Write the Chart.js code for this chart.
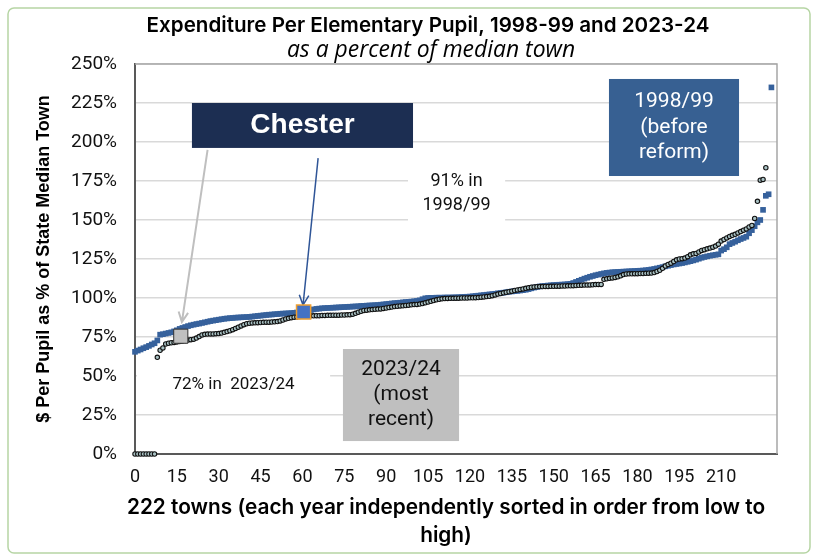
<!DOCTYPE html>
<html>
<head>
<meta charset="utf-8">
<script src="https://cdn.jsdelivr.net/npm/chart.js@4.4.1/dist/chart.umd.min.js"></script>
<style>
  html, body { margin: 0; padding: 0; background: #fff; }
</style>
</head>
<body>
<canvas id="graficoGastos" width="817" height="560"></canvas>
<script>
// % of state median town, each year sorted low -> high (rank along x)
const towns1999 = [
  65.5, 66.3, 67, 67.8, 68.5, 69.3, 70.2, 71, 72.8, 76.5,
  76.8, 77.2, 77.6, 78, 78.6, 79.3, 80.2, 80.8, 81.4, 82,
  82.5, 82.9, 83.3, 83.6, 84, 84.4, 84.8, 85.2, 85.5, 85.8,
  86.1, 86.4, 86.7, 86.9, 87.1, 87.2, 87.4, 87.5, 87.6, 87.7,
  87.8, 87.9, 88.1, 88.3, 88.5, 88.7, 88.9, 89.1, 89.3, 89.4,
  89.6, 89.7, 89.9, 90, 90.1, 90.2, 90.3, 90.5, 90.7, 90.9,
  91.1, 91.5, 91.9, 92.3, 92.7, 93, 93.2, 93.4, 93.5, 93.6,
  93.7, 93.8, 93.9, 94, 94.1, 94.2, 94.3, 94.4, 94.5, 94.6,
  94.7, 94.9, 95, 95.1, 95.2, 95.3, 95.4, 95.5, 95.7, 95.9,
  96.1, 96.3, 96.5, 96.7, 96.8, 97, 97.2, 97.4, 97.5, 97.7,
  97.9, 98.1, 98.5, 99.2, 99.8, 100, 100.1, 100.1, 100.2, 100.2,
  100.2, 100.3, 100.3, 100.3, 100.4, 100.4, 100.5, 100.6, 100.7, 100.8,
  100.9, 101.1, 101.3, 101.5, 101.7, 101.9, 102.1, 102.3, 102.5, 102.7,
  103, 103.2, 103.4, 103.7, 104, 104.2, 104.4, 104.6, 104.8, 105,
  105.3, 105.7, 106.2, 106.7, 107.1, 107.4, 107.6, 107.8, 108, 108.1,
  108.3, 108.4, 108.5, 108.6, 108.7, 108.9, 109.1, 109.6, 110.3, 111,
  111.7, 112.4, 113, 113.6, 114.1, 114.6, 115, 115.4, 115.8, 116.1,
  116.3, 116.5, 116.6, 116.7, 116.8, 116.9, 117, 117.1, 117.2, 117.3,
  117.4, 117.5, 117.6, 117.8, 118, 118.3, 118.6, 119, 119.4, 119.8,
  120.3, 120.7, 121.1, 121.5, 121.8, 122.1, 122.4, 122.8, 123.2, 123.6,
  124.1, 124.6, 125.2, 125.8, 126.3, 126.7, 127.1, 127.4, 127.7, 128,
  130.4, 131.3, 132.5, 134.5, 135.3, 136.1, 137, 137.8, 138.5, 139.3,
  141.5, 143.5, 146, 148.5, 150, 156.5, 165.5, 166.5, 235
];

const towns2024 = [
  0, 0, 0, 0, 0, 0, 0, 0, 62, 66.5,
  68, 70.5, 71, 71.3, 71.5, 71.8, 72.1, 72.4, 72.7, 73,
  73.3, 73.6, 74.3, 75.3, 76.3, 76.7, 76.9, 77, 77, 77.1,
  77.2, 77.5, 78, 78.5, 79, 79.7, 80.5, 81.3, 82.1, 82.9,
  83.5, 83.8, 84, 84.1, 84.2, 84.3, 84.4, 84.5, 84.5, 84.6,
  84.7, 84.9, 85.3, 85.9, 86.6, 87, 87.4, 87.7, 87.9, 88.1,
  88.3, 88.4, 88.5, 88.6, 88.6, 88.7, 88.7, 88.8, 88.8, 88.9,
  88.9, 89, 89, 89, 89.1, 89.1, 89.2, 89.3, 89.6, 90.2,
  90.9, 91.5, 92, 92.2, 92.4, 92.6, 92.8, 92.9, 93, 93.3,
  93.6, 93.9, 94.2, 94.5, 94.7, 94.9, 95, 95.2, 95.4, 95.6,
  95.8, 95.9, 96.1, 96.4, 96.9, 97.4, 97.9, 98.4, 98.8, 99.2,
  99.5, 99.6, 99.7, 99.8, 99.8, 99.9, 99.9, 100, 100, 100,
  100.1, 100.1, 100.2, 100.3, 100.5, 100.7, 100.9, 101.1, 101.5, 102,
  102.5, 102.9, 103.3, 103.7, 104, 104.4, 104.8, 105.2, 105.5, 105.8,
  106.2, 106.6, 106.9, 107.1, 107.2, 107.3, 107.3, 107.4, 107.4, 107.5,
  107.5, 107.6, 107.6, 107.7, 107.7, 107.8, 107.8, 107.9, 108, 108.1,
  108.2, 108.3, 108.3, 108.4, 108.5, 108.6, 108.7, 108.7, 112, 112.3,
  112.6, 112.9, 113.2, 113.6, 114.2, 115, 115.4, 115.5, 115.5, 115.6,
  115.6, 115.7, 115.7, 115.8, 115.9, 116, 116.3, 117, 117.8, 119,
  120.5, 121.5, 122.3, 123.4, 124.5, 125, 125.2, 125.6, 126.5, 127.7,
  128.3, 128.6, 129.5, 130.5, 131, 131.5, 132, 132.6, 133.3, 134.5,
  136.5, 137.5, 138.5, 139.5, 140.2, 140.8, 141.7, 142.6, 143.5, 144.3,
  145.5, 146.5, 151, 162, 175.5, 176, 183.5
];

// Chester highlight markers: 2023/24 and 1998/99 (rank, % as drawn)
const chesterRank = [16.4, 60.4];
const chesterValue = [75.5, 91];

const titulo = 'Expenditure Per Elementary Pupil, 1998-99 and 2023-24';
const subtitulo = 'as a percent of median town';
const tituloX = ['222 towns (each year independently sorted in order from low to', 'high)'];
const tituloY = '$ Per Pupil as % of State Median Town';

// text boxes, placed in data units
const caixas = [
  { x: [20.4, 99.6], y: [225, 196.2], fill: '#1c2e52', color: '#fff', font: 'bold 28px "Liberation Sans", Arial', lines: ['Chester'], gap: 0 },
  { x: [169.8, 216.4], y: [240.4, 178.2], fill: '#376092', color: '#fff', font: '21px Roboto', lines: ['1998/99', '(before', 'reform)'], gap: 25.5 },
  { x: [74.5, 116.1], y: [67.3, 8.3], fill: '#bfbfbf', color: '#111', font: '21px Roboto', lines: ['2023/24', '(most', 'recent)'], gap: 25 },
  { x: [97.8, 132.6], y: [185, 148.7], fill: '#fff', color: '#111', font: '18px Roboto', lines: ['91% in', '1998/99'], gap: 24 },
  { x: [0.7, 69.9], y: [55, 33.3], fill: '#fff', color: '#111', font: '17px Roboto', lines: ['72% in  2023/24'], gap: 0 }
];
const setas = [
  { from: [26, 194.9], to: [16.8, 84.6], color: '#bfbfbf', width: 2 },
  { from: [65.6, 189.7], to: [60.2, 95.5], color: '#2f5597', width: 1.5 }
];

// draw a line of text scaled so it spans the given width
function textoAjustado(ctx, t, x, y, largura, estilo, familia) {
  ctx.font = estilo + ' 20px ' + familia;
  const size = 20 * largura / ctx.measureText(t).width;
  ctx.font = estilo + ' ' + size.toFixed(1) + 'px ' + familia;
  ctx.fillText(t, x, y);
  return size;
}

const anotacoes = {
  id: 'anotacoes',
  beforeDatasetsDraw(chart) {
    const { ctx, chartArea: a, scales: { x, y } } = chart;
    const px = v => x.getPixelForValue(v);
    const py = v => y.getPixelForValue(v);
    ctx.save();
    // top and right frame
    ctx.strokeStyle = '#a6a6a6';
    ctx.lineWidth = 1.5;
    ctx.beginPath();
    ctx.moveTo(a.left, a.top);
    ctx.lineTo(a.right, a.top);
    ctx.lineTo(a.right, a.bottom);
    ctx.stroke();

    caixas.forEach(c => {
      const x0 = px(c.x[0]), x1 = px(c.x[1]), y0 = py(c.y[0]), y1 = py(c.y[1]);
      ctx.fillStyle = c.fill;
      ctx.fillRect(x0, y0, x1 - x0, y1 - y0);
      ctx.fillStyle = c.color;
      ctx.font = c.font;
      ctx.textAlign = 'center';
      ctx.textBaseline = 'middle';
      const cx = (x0 + x1) / 2, cy = (y0 + y1) / 2;
      const start = cy - c.gap * (c.lines.length - 1) / 2;
      c.lines.forEach((t, i) => ctx.fillText(t, cx, start + i * c.gap));
    });

    setas.forEach(s => {
      const x0 = px(s.from[0]), y0 = py(s.from[1]), x1 = px(s.to[0]), y1 = py(s.to[1]);
      const ang = Math.atan2(y1 - y0, x1 - x0);
      ctx.strokeStyle = s.color;
      ctx.lineWidth = s.width;
      ctx.beginPath();
      ctx.moveTo(x0, y0);
      ctx.lineTo(x1, y1);
      ctx.moveTo(x1 - 11 * Math.cos(ang - 0.45), y1 - 11 * Math.sin(ang - 0.45));
      ctx.lineTo(x1, y1);
      ctx.lineTo(x1 - 11 * Math.cos(ang + 0.45), y1 - 11 * Math.sin(ang + 0.45));
      ctx.stroke();
    });
    ctx.restore();
  },
  afterDraw(chart) {
    const { ctx } = chart;
    ctx.save();
    ctx.strokeStyle = '#b6d5a4';
    ctx.lineWidth = 1.5;
    ctx.beginPath();
    ctx.roundRect(8, 8, 802, 545, 6);
    ctx.stroke();

    ctx.fillStyle = '#000';
    ctx.textAlign = 'center';
    ctx.textBaseline = 'middle';
    textoAjustado(ctx, titulo, 428, 26, 562, '600', 'Inter');
    textoAjustado(ctx, subtitulo, 431, 50, 288, 'italic', '"Open Sans"');
    const s = textoAjustado(ctx, tituloX[0], 446, 508, 639, '600', 'Inter');
    ctx.font = '600 ' + s.toFixed(1) + 'px Inter';
    ctx.fillText(tituloX[1], 446, 536);
    ctx.restore();
  }
};

document.addEventListener('DOMContentLoaded', () => {
  const ctx = document.getElementById('graficoGastos').getContext('2d');

  new Chart(ctx, {
    type: 'scatter',
    data: {
      datasets: [{
        label: 'Chester',
        data: chesterRank.map((r, i) => ({ x: r, y: chesterValue[i] })),
        pointStyle: 'rect',
        pointRadius: 10,
        pointBackgroundColor: ['#c0c0c0', '#4472c4'],
        pointBorderColor: ['#333333', '#f0a030'],
        pointBorderWidth: [1, 1.5],
        clip: false
      }, {
        label: '2023/24',
        data: towns2024.map((v, i) => ({ x: i, y: v })),
        pointStyle: 'circle',
        pointRadius: 2.2,
        pointBackgroundColor: '#a9c2c4',
        pointBorderColor: '#111',
        pointBorderWidth: 1.1,
        clip: false
      }, {
        label: '1998/99',
        data: towns1999.map((v, i) => ({ x: i, y: v })),
        pointStyle: 'rect',
        pointRadius: 4,
        pointBackgroundColor: '#36619c',
        pointBorderWidth: 0,
        clip: false
      }]
    },
    options: {
      responsive: false,
      animation: false,
      events: [],
      layout: {
        padding: { top: 64, left: 30, right: 40, bottom: 10 }
      },
      plugins: {
        legend: { display: false },
        tooltip: { enabled: false }
      },
      scales: {
        x: {
          type: 'linear',
          min: 0,
          max: 230,
          grid: { display: false, drawTicks: false },
          border: { color: '#595959', width: 2 },
          ticks: {
            stepSize: 15,
            includeBounds: false,
            maxRotation: 0,
            autoSkip: false,
            padding: 13,
            color: '#111',
            font: { family: 'Roboto', size: 18 }
          },
          afterBuildTicks(s) { s.ticks = s.ticks.filter(t => t.value <= 210); },
          afterFit(s) { s.height = 96; }
        },
        y: {
          min: 0,
          max: 250,
          grid: { color: '#d9d9d9', lineWidth: 1.5, drawTicks: false },
          border: { color: '#595959', width: 2 },
          ticks: {
            stepSize: 25,
            padding: 18,
            color: '#111',
            font: { family: 'Roboto', size: 19 },
            callback: v => v + '%'
          },
          title: {
            display: true,
            text: tituloY,
            color: '#000',
            font: { family: '"Liberation Sans", Arial', size: 18, weight: 'bold' },
            padding: { top: 3, bottom: 0 }
          },
          afterFit(s) { s.width = 105; }
        }
      }
    },
    plugins: [anotacoes]
  });
});
</script>
</body>
</html>
